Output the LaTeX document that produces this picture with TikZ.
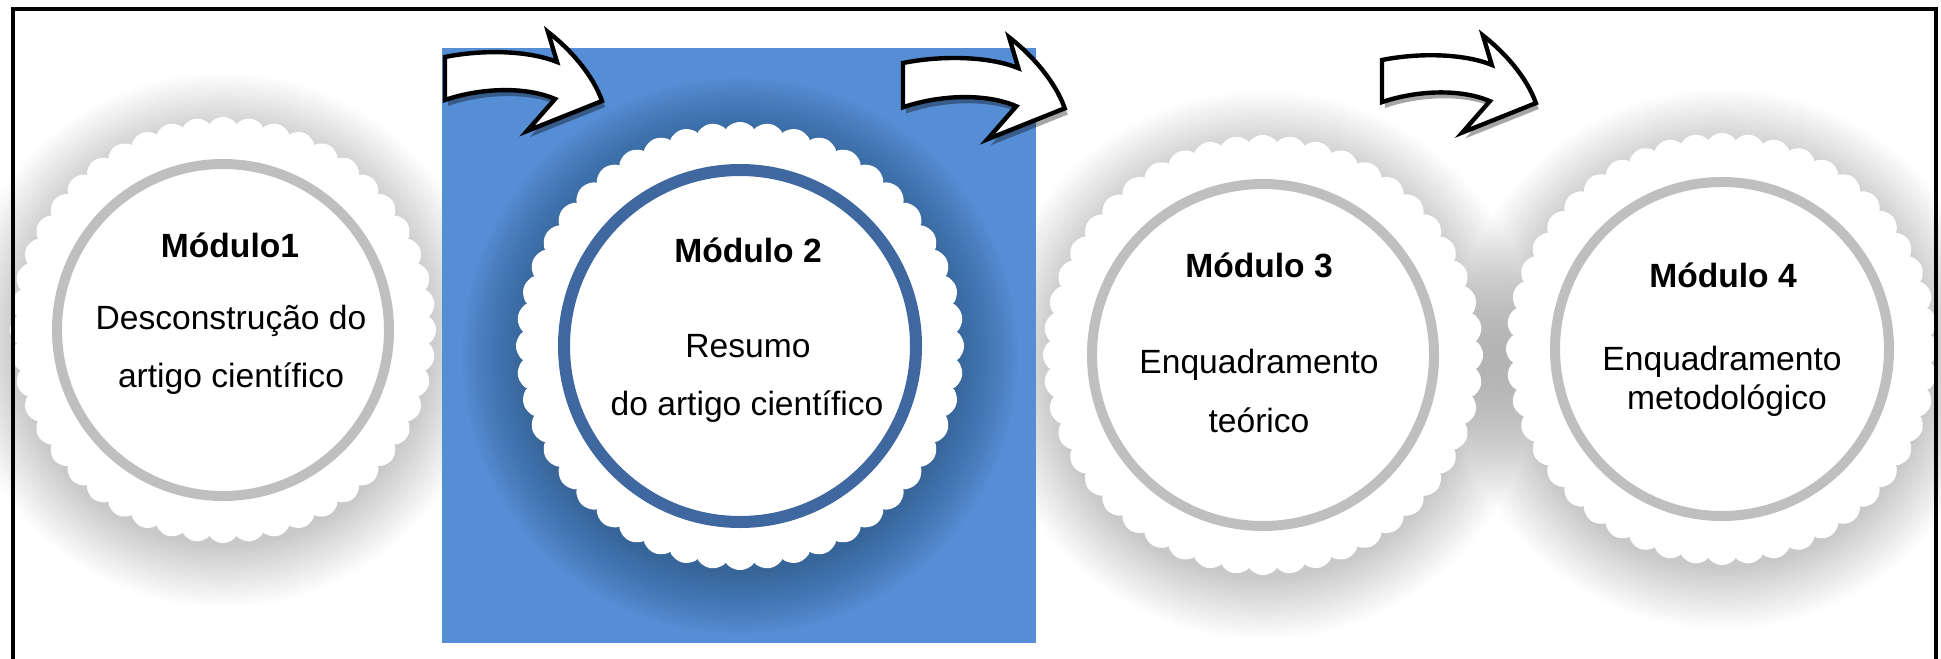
\documentclass[tikz,border=0pt]{standalone}
\usepackage{fontspec}
\setmainfont{Liberation Sans}
\definecolor{bluebg}{RGB}{85,142,213}
\definecolor{ringblue}{RGB}{63,104,160}
\definecolor{ringgrey}{RGB}{191,191,191}
% gear: cx, cy (px), teeth radius (px), ring radius (pt), ring width (pt), ring colour
\newcommand\mygear[6]{%
  \begin{scope}[shift={(#1,#2)}]
    \fill[white] plot[domain=0:360, samples=961, variable=\t] ({\t}:{#3-7+3.5*sqrt(abs(cos(24*\t)))+3.5*abs(cos(24*\t))}) -- cycle;
    \draw[#6, line width=#5] (0,0) circle[radius=#4];
  \end{scope}}
% soft shadow: cx, cy (px), teeth radius (px), opacity per layer
\newcommand\myshadow[4]{%
  \foreach \k in {0,...,17}{%
    \fill[black, opacity=#4] (#1,#2) circle[radius={(#3-6+3.5*\k)*0.5pt}];}}
\newcommand\myarrow[3]{%
  \begin{scope}[shift={(#1,#2)}, scale=#3]
    \fill[black, opacity=0.35] ([shift={(3,6)}]0,0) .. controls ([shift={(3,6)}]40,-8) and ([shift={(3,6)}]85,-6) .. ([shift={(3,6)}]112,5) -- ([shift={(3,6)}]103,-25) .. controls ([shift={(3,6)}]125,-8) and ([shift={(3,6)}]148,18) .. ([shift={(3,6)}]157,44) -- ([shift={(3,6)}]82,74) -- ([shift={(3,6)}]110,42) .. controls ([shift={(3,6)}]80,29) and ([shift={(3,6)}]35,31) .. ([shift={(3,6)}]0,43) -- cycle;
    \filldraw[fill=white, draw=black, line width=2.2pt, line join=miter] (0,0) .. controls (40,-8) and (85,-6) .. (112,5) -- (103,-25) .. controls (125,-8) and (148,18) .. (157,44) -- (82,74) -- (110,42) .. controls (80,29) and (35,31) .. (0,43) -- cycle;
  \end{scope}}
\begin{document}
\begin{tikzpicture}[x=0.5pt,y=-0.5pt,
  lbl/.style={anchor=base, inner sep=0pt, font=\fontsize{16.8}{20}\selectfont},
  ttl/.style={anchor=base, inner sep=0pt, font=\fontsize{16.8}{20}\selectfont\bfseries}]
\useasboundingbox (0,0) rectangle (1941,658);
\clip (0,0) rectangle (1941,658);
\fill[white] (0,0) rectangle (1941,658);
\coordinate (g1) at (223,330);
\coordinate (g2) at (740,346);
\coordinate (g3) at (1263,355);
\coordinate (g4) at (1722,349);
% shadows under the white area
\myshadow{223}{340}{213}{0.0135}
\myshadow{1263}{365}{220}{0.0135}
\myshadow{1722}{359}{216}{0.0135}
% blue panel
\fill[bluebg] (442,48) rectangle (1036,643);
\myshadow{740}{356}{224}{0.016}
% gears
\mygear{223}{330}{213}{83pt}{5pt}{ringgrey}
\mygear{740}{346}{224}{88pt}{6pt}{ringblue}
\mygear{1263}{355}{220}{85.5pt}{5pt}{ringgrey}
\mygear{1722}{349}{216}{83.5pt}{5pt}{ringgrey}
% arrows
\myarrow{445}{57}{1}
\myarrow{903}{63}{1.03}
\myarrow{1382}{60}{0.98}
% texts
\node[ttl] (m1t) at (230,257) {Módulo1};
\node[lbl] (m1a) at (231,329) {Desconstrução do};
\node[lbl] (m1b) at (231,387) {artigo científico};
\node[ttl] (m2t) at (748,262) {Módulo 2};
\node[lbl] (m2a) at (748,357) {Resumo};
\node[lbl] (m2b) at (747,415) {do artigo científico};
\node[ttl] (m3t) at (1259,277) {Módulo 3};
\node[lbl] (m3a) at (1259,373) {Enquadramento};
\node[lbl] (m3b) at (1259,432) {teórico};
\node[ttl] (m4t) at (1723,287) {Módulo 4};
\node[lbl] (m4a) at (1722,370) {Enquadramento};
\node[lbl] (m4b) at (1727,409) {metodológico};
% frame
\draw[line width=2pt] (13,9) rectangle (1936,720);
\end{tikzpicture}
\end{document}
